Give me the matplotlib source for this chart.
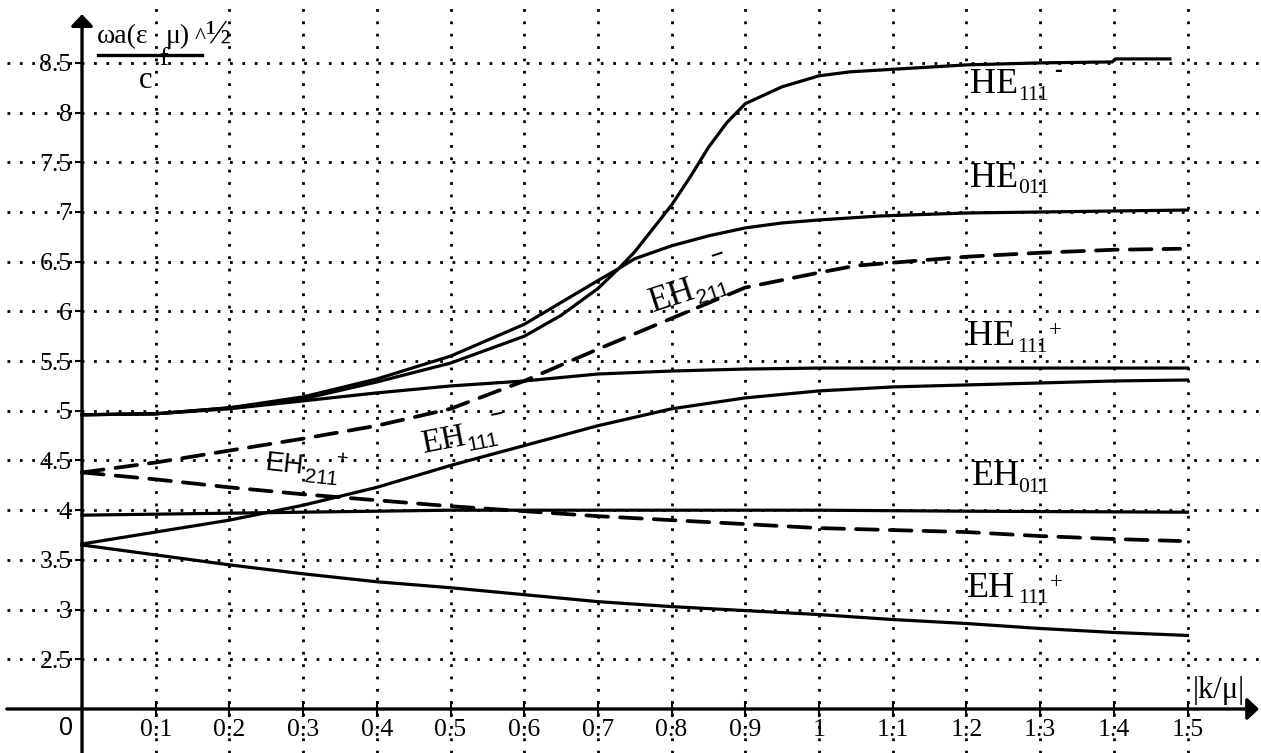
import numpy as np
import matplotlib
matplotlib.use('Agg')
import matplotlib.pyplot as plt
from matplotlib.lines import Line2D

plt.rcParams['font.family'] = ['Liberation Serif', 'DejaVu Serif']

# ------------------------------------------------------------------
#  Data
# ------------------------------------------------------------------
he111m_x = [0, 0.1, 0.2, 0.3, 0.4, 0.5, 0.6, 0.65, 0.7, 0.728, 0.75, 0.8, 0.825, 0.85,
            0.875, 0.9, 0.95, 1.0, 1.042, 1.2, 1.3, 1.398, 1.402, 1.476]
he111m_y = [4.96, 4.97, 5.03, 5.12, 5.29, 5.48, 5.75, 5.96, 6.23, 6.43, 6.60, 7.07, 7.35, 7.65,
            7.90, 8.09, 8.26, 8.37, 8.41, 8.48, 8.50, 8.51, 8.54, 8.54]

he011_x = [0, 0.1, 0.2, 0.3, 0.4, 0.5, 0.6, 0.7, 0.728, 0.75, 0.8, 0.85, 0.9, 0.95, 1.0,
           1.083, 1.2, 1.3, 1.4, 1.5]
he011_y = [4.96, 4.97, 5.03, 5.14, 5.32, 5.55, 5.87, 6.31, 6.43, 6.53, 6.66, 6.76, 6.84, 6.89,
           6.92, 6.96, 6.99, 7.0, 7.01, 7.02]

he111p_x = [0, 0.1, 0.2, 0.3, 0.4, 0.5, 0.6, 0.7, 0.8, 0.9, 1.0, 1.5]
he111p_y = [4.96, 4.97, 5.02, 5.10, 5.18, 5.25, 5.30, 5.37, 5.40, 5.42, 5.43, 5.43]

eh211m_x = [0, 0.1, 0.2, 0.3, 0.4, 0.5, 0.6, 0.7, 0.8, 0.9, 1.0, 1.05, 1.2, 1.3, 1.4, 1.49]
eh211m_y = [4.38, 4.48, 4.60, 4.72, 4.85, 5.02, 5.30, 5.62, 5.93, 6.24, 6.39, 6.46, 6.55,
            6.59, 6.62, 6.63]

eh211p_x = [0, 0.1, 0.2, 0.3, 0.4, 0.5, 0.6, 0.7, 0.8, 0.9, 1.0, 1.1, 1.2, 1.3, 1.4, 1.49]
eh211p_y = [4.38, 4.31, 4.23, 4.16, 4.10, 4.04, 3.99, 3.94, 3.90, 3.86, 3.82, 3.80, 3.78,
            3.74, 3.71, 3.69]

eh111_x = [0, 0.1, 0.2, 0.3, 0.4, 0.5, 0.6, 0.7, 0.8, 0.9, 1.0, 1.1, 1.2, 1.3, 1.4, 1.5]
eh111_y = [3.66, 3.78, 3.90, 4.05, 4.23, 4.45, 4.65, 4.85, 5.02, 5.13, 5.20, 5.24, 5.26,
           5.28, 5.30, 5.31]

eh011_x = [0, 0.1, 0.2, 0.3, 0.4, 0.5, 1.0, 1.2, 1.5]
eh011_y = [3.95, 3.96, 3.97, 3.98, 3.99, 4.0, 4.0, 3.99, 3.98]

eh111p_x = [0, 0.1, 0.2, 0.3, 0.4, 0.5, 0.6, 0.7, 0.8, 0.9, 1.0, 1.1, 1.2, 1.3, 1.4, 1.5]
eh111p_y = [3.65, 3.55, 3.45, 3.36, 3.28, 3.22, 3.15, 3.08, 3.03, 2.99, 2.95, 2.90, 2.86,
            2.81, 2.77, 2.74]

x_ticks = [0.1, 0.2, 0.3, 0.4, 0.5, 0.6, 0.7, 0.8, 0.9, 1.0, 1.1, 1.2, 1.3, 1.4, 1.5]
x_labels = ['0.1', '0.2', '0.3', '0.4', '0.5', '0.6', '0.7', '0.8', '0.9', '1',
            '1.1', '1.2', '1.3', '1.4', '1.5']
y_ticks = [2.5, 3, 3.5, 4, 4.5, 5, 5.5, 6, 6.5, 7, 7.5, 8, 8.5]
y_labels = ['2.5', '3', '3.5', '4', '4.5', '5', '5.5', '6', '6.5', '7', '7.5', '8', '8.5']

# ------------------------------------------------------------------
#  Figure: axes fill the whole canvas, origin sits at (0, 2)
# ------------------------------------------------------------------
W, H = 1261, 753
fig = plt.figure(figsize=(W / 100, H / 100), dpi=100)
ax = fig.add_axes([0, 0, 1, 1])
ax.set_xlim(-0.1113, 1.5997)
ax.set_ylim(1.5573, 9.1328)
for s in ax.spines.values():
    s.set_visible(False)
ax.spines['left'].set_position(('data', 0))
ax.spines['bottom'].set_position(('data', 2))

# dotted grid
dot = (0, (1, 3.45))
ax.hlines(y_ticks, -0.102, 1.5997, colors='black', linewidth=2, linestyles=dot, zorder=1)
ax.vlines(x_ticks, 1.5573, 9.1328, colors='black', linewidth=2, linestyles=dot, zorder=1)

# curves
solid = dict(color='black', linewidth=2.3, zorder=3, solid_joinstyle='round')
dashed = dict(color='black', linewidth=2.7, zorder=3, dashes=(5.8, 3.2),
              dash_capstyle='round')
ax.plot(he111m_x, he111m_y, **solid)
ax.plot(he011_x, he011_y, **solid)
ax.plot(he111p_x, he111p_y, **solid)
ax.plot(eh111_x, eh111_y, **solid)
ax.plot(eh011_x, eh011_y, **solid)
ax.plot(eh111p_x, eh111p_y, **solid)
ax.plot(eh211m_x, eh211m_y, **dashed)
ax.plot(eh211p_x, eh211p_y, **dashed)

# axes with arrows
arrow = dict(arrowstyle='-|>,head_length=0.35,head_width=0.33', color='black', lw=2.4,
             mutation_scale=20, shrinkA=0, shrinkB=0)
ax.annotate('', xy=(1.597, 2), xytext=(-0.102, 2), arrowprops=arrow, zorder=4)
ax.annotate('', xy=(0, 8.99), xytext=(0, 1.5573), arrowprops=arrow, zorder=4)

# ticks
ax.set_xticks(x_ticks)
ax.set_xticklabels(x_labels)
ax.set_yticks(y_ticks)
ax.set_yticklabels(y_labels)
ax.tick_params(axis='x', direction='inout', length=11, width=1.5, pad=2, labelsize=18.5)
ax.tick_params(axis='y', direction='out', length=5, width=1.5, pad=2.5, labelsize=18.5)


# ------------------------------------------------------------------
#  Text helpers (pixel positions, y measured from the top)
# ------------------------------------------------------------------
def put(x, y, s, **kw):
    kw.setdefault('ha', 'left')
    kw.setdefault('va', 'baseline')
    fig.text(x / W, 1 - y / H, s, zorder=6, **kw)


def put_rot(x0, y0, ang, along, up, s, **kw):
    a = np.radians(ang)
    x = x0 + along * np.cos(a) - up * np.sin(a)
    y = y0 - along * np.sin(a) - up * np.cos(a)
    put(x, y, s, rotation=ang, rotation_mode='anchor', **kw)


SANS = ['Liberation Sans', 'DejaVu Sans']

# origin label
put(66, 735, '0', ha='center', fontsize=18, family=SANS)

# y axis label (fraction)
put(97, 43, 'ωa(ε', fontsize=20)
put(159, 65, 'f', fontsize=19)
put(166, 43, 'μ)', fontsize=20)
put(195, 43, '^', fontsize=17)
put(206, 44, '½', fontsize=24)
fig.add_artist(Line2D([98 / W, 202 / W], [1 - 55 / H, 1 - 55 / H], color='black',
                      linewidth=2.4))
put(139, 88, 'c', fontsize=22)

# x axis label
put(1193, 698, '|k/μ|', fontsize=22)

# mode labels on the right
BIG, SUB = 26, 15.5
put(970, 93, 'HE', fontsize=BIG)
put(1018, 100, '111', fontsize=SUB)
put(1054, 77, '-', fontsize=17, fontweight='bold', family=SANS)

put(970, 187, 'HE', fontsize=BIG)
put(1018, 193, '011', fontsize=SUB)

put(967, 345, 'HE', fontsize=BIG)
put(1017, 352, '111', fontsize=SUB)
put(1049, 336, '+', fontsize=16.5)

put(972, 485, 'EH', fontsize=BIG)
put(1018, 492, '011', fontsize=SUB)

put(967, 597, 'EH', fontsize=BIG)
put(1018, 603, '111', fontsize=SUB)
put(1050, 588, '+', fontsize=16.5)

# rotated labels along the curves
put_rot(423, 453, 11, 0, 0, 'EH', fontsize=24)
put_rot(423, 453, 11, 45, -7, '111', fontsize=15, family=SANS)
put_rot(423, 453, 11, 73, 18, '–', fontsize=16, fontweight='bold', family=SANS)

put_rot(653, 312, 18, 0, 0, 'EH', fontsize=25)
put_rot(653, 312, 18, 46, -7, '211', fontsize=15, family=SANS)
put_rot(653, 312, 18, 72, 29, '–', fontsize=16, fontweight='bold', family=SANS)

put_rot(265, 470, -6, 0, 0, 'EH', fontsize=20, family=SANS)
put_rot(265, 470, -6, 40, -8, '211', fontsize=15, family=SANS)
put_rot(265, 470, -6, 70, 13, '+', fontsize=15, family=SANS)

fig.savefig('out.png', dpi=100)
